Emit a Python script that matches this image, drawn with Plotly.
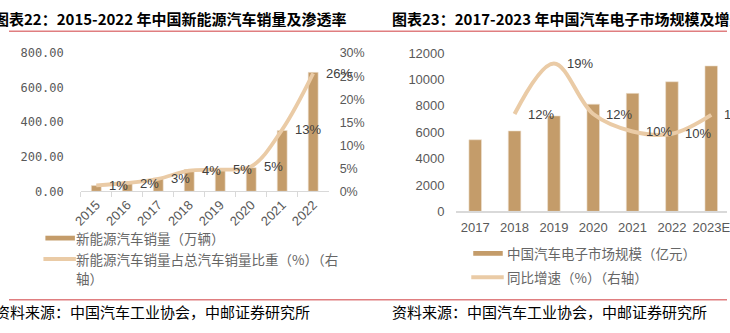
import plotly.graph_objects as go

W, H = 730, 333


def px(x):
    return x / W


def py(y):
    return 1 - y / H


# ---------------- data ----------------
years_a = ["2015", "2016", "2017", "2018", "2019", "2020", "2021", "2022"]
nev_sales = [33.1, 50.7, 77.7, 125.6, 120.6, 136.7, 352.1, 688.7]          # 万辆
nev_share = [1.3, 1.8, 2.7, 4.5, 4.7, 5.4, 13.4, 25.6]                      # %
nev_share_labels = ["1%", "2%", "3%", "4%", "5%", "5%", "13%", "26%"]

years_b = ["2017", "2018", "2019", "2020", "2021", "2022", "2023E"]
ae_market = [5430, 6100, 7240, 8130, 8950, 9830, 11030]                    # 亿元
ae_growth = [None, 12.3, 18.7, 12.3, 10.1, 9.8, 12.2]                      # %
ae_growth_labels = ["", "12%", "19%", "12%", "10%", "10%", "12%"]

BAR = "#C49C6A"
LINE = "#EACBA6"
TICK = "#595959"
LBL = "#404040"
AXIS = "#D9D9D9"
RED = "#E07E80"
CJK = "Noto Sans CJK SC"
LAT = "Liberation Sans, Arial, sans-serif"

fig = go.Figure()

# left chart
fig.add_trace(go.Bar(x=years_a, y=nev_sales, xaxis="x", yaxis="y",
                     marker=dict(color=BAR, line=dict(color="#EFE3D3", width=0.6)),
                     showlegend=False, hoverinfo="skip"))
fig.add_trace(go.Scatter(x=years_a, y=nev_share, xaxis="x", yaxis="y2", mode="lines",
                         line=dict(color=LINE, width=3.8, shape="spline", smoothing=1.0),
                         showlegend=False, hoverinfo="skip"))
# right chart
fig.add_trace(go.Bar(x=years_b, y=ae_market, xaxis="x2", yaxis="y3",
                     marker=dict(color=BAR, line=dict(color="#EFE3D3", width=0.6)),
                     showlegend=False, hoverinfo="skip"))
fig.add_trace(go.Scatter(x=years_b, y=ae_growth, xaxis="x2", yaxis="y4", mode="lines",
                         line=dict(color=LINE, width=4, shape="spline", smoothing=1.0),
                         connectgaps=False, showlegend=False, hoverinfo="skip"))

annotations = []
for i, (yv, t) in enumerate(zip(nev_share, nev_share_labels)):
    annotations.append(dict(x=i, y=yv, xref="x", yref="y2", text=t, showarrow=False,
                            xanchor="left", yanchor="middle", xshift=11,
                            font=dict(family=LAT, size=13, color=LBL)))
for i, (yv, t) in enumerate(zip(ae_growth, ae_growth_labels)):
    if yv is None:
        continue
    annotations.append(dict(x=i, y=yv, xref="x2", yref="y4", text=t, showarrow=False,
                            xanchor="left", yanchor="middle", xshift=11,
                            font=dict(family=LAT, size=13, color=LBL)))

# titles
annotations.append(dict(x=px(-17), y=py(12), xref="paper", yref="paper",
                        text="<b>图表22：2015-2022 年中国新能源汽车销量及渗透率</b>",
                        showarrow=False, xanchor="left", yanchor="middle",
                        font=dict(family=CJK, size=15, color="#000000")))
annotations.append(dict(x=px(387), y=py(12), xref="paper", yref="paper",
                        text="<b>图表23：2017-2023 年中国汽车电子市场规模及增速</b>",
                        showarrow=False, xanchor="left", yanchor="middle",
                        font=dict(family=CJK, size=15, color="#000000")))
# sources
for sx in (-16, 387):
    annotations.append(dict(x=px(sx), y=py(319), xref="paper", yref="paper",
                            text="资料来源：中国汽车工业协会，中邮证券研究所",
                            showarrow=False, xanchor="left", yanchor="middle",
                            font=dict(family=CJK, size=15, color="#000000")))

# legends (manual)
leg_font = dict(family=CJK, size=13.5, color="#666666")
annotations += [
    dict(x=px(66), y=py(242), xref="paper", yref="paper", text="新能源汽车销量（万辆）",
         showarrow=False, xanchor="left", yanchor="middle", font=leg_font),
    dict(x=px(66), y=py(264), xref="paper", yref="paper",
         text="新能源汽车销量占总汽车销量比重（%）（右",
         showarrow=False, xanchor="left", yanchor="middle", font=leg_font),
    dict(x=px(66), y=py(284), xref="paper", yref="paper", text="轴）",
         showarrow=False, xanchor="left", yanchor="middle", font=leg_font),
    dict(x=px(504), y=py(258), xref="paper", yref="paper", text="中国汽车电子市场规模（亿元）",
         showarrow=False, xanchor="left", yanchor="middle", font=leg_font),
    dict(x=px(504), y=py(283), xref="paper", yref="paper", text="同比增速（%）（右轴）",
         showarrow=False, xanchor="left", yanchor="middle", font=leg_font),
]

shapes = [
    dict(type="line", xref="paper", yref="paper", x0=0, x1=1, y0=py(25.5), y1=py(25.5),
         line=dict(color=RED, width=1.5)),
    dict(type="line", xref="paper", yref="paper", x0=0, x1=1, y0=py(306.5), y1=py(306.5),
         line=dict(color=RED, width=1.5)),
    dict(type="rect", xref="paper", yref="paper", x0=px(37), x1=px(67), y0=py(244.5), y1=py(239.5),
         fillcolor=BAR, line=dict(width=0)),
    dict(type="line", xref="paper", yref="paper", x0=px(35), x1=px(68), y0=py(264), y1=py(264),
         line=dict(color=LINE, width=4)),
    dict(type="rect", xref="paper", yref="paper", x0=px(472), x1=px(502), y0=py(260.5), y1=py(255.5),
         fillcolor=BAR, line=dict(width=0)),
    dict(type="line", xref="paper", yref="paper", x0=px(470), x1=px(503), y0=py(283), y1=py(283),
         line=dict(color=LINE, width=4)),
]

tickfont = dict(family=LAT, size=12.5, color=TICK)

fig.update_layout(
    width=W, height=H,
    margin=dict(l=0, r=0, t=0, b=0),
    paper_bgcolor="white", plot_bgcolor="white",
    bargap=0.68,
    showlegend=False,
    xaxis=dict(domain=[px(73), px(325)], anchor="y", type="category", range=[-0.5, 7.5],
               tickangle=-45, showline=True, linecolor=AXIS, linewidth=1,
               ticks="outside", tickson="boundaries", ticklen=5, tickcolor=AXIS,
               showgrid=False, tickfont=dict(family=LAT, size=13, color=TICK)),
    yaxis=dict(domain=[py(193), py(48.3)], anchor="x", range=[0, 800], dtick=200,
               tickformat=".2f", showgrid=False, zeroline=False, showline=False,
               ticklabelstandoff=16,
               tickfont=dict(family="DejaVu Sans Mono", size=12, color=TICK)),
    yaxis2=dict(overlaying="y", anchor="x", side="right", range=[0, 30], dtick=5,
                ticksuffix="%", showgrid=False, zeroline=False, showline=False,
                ticklabelstandoff=10, tickfont=tickfont),
    xaxis2=dict(domain=[px(454), 1], anchor="y3", type="category", range=[-0.5, 6.4],
                showline=True, linecolor=AXIS, linewidth=1.5, ticks="",
                ticklabelstandoff=3,
                showgrid=False, tickfont=dict(family=LAT, size=13, color=TICK)),
    yaxis3=dict(domain=[py(214), py(48.3)], anchor="x2", range=[0, 12000], dtick=2000,
                tickformat="d", showgrid=False, zeroline=False, showline=False,
                ticklabelstandoff=10, tickfont=dict(family=LAT, size=13, color=TICK)),
    yaxis4=dict(overlaying="y3", anchor="x2", side="right", range=[0, 20],
                showticklabels=False, showgrid=False, zeroline=False, showline=False),
    annotations=annotations,
    shapes=shapes,
)

fig.write_html("out.html")
